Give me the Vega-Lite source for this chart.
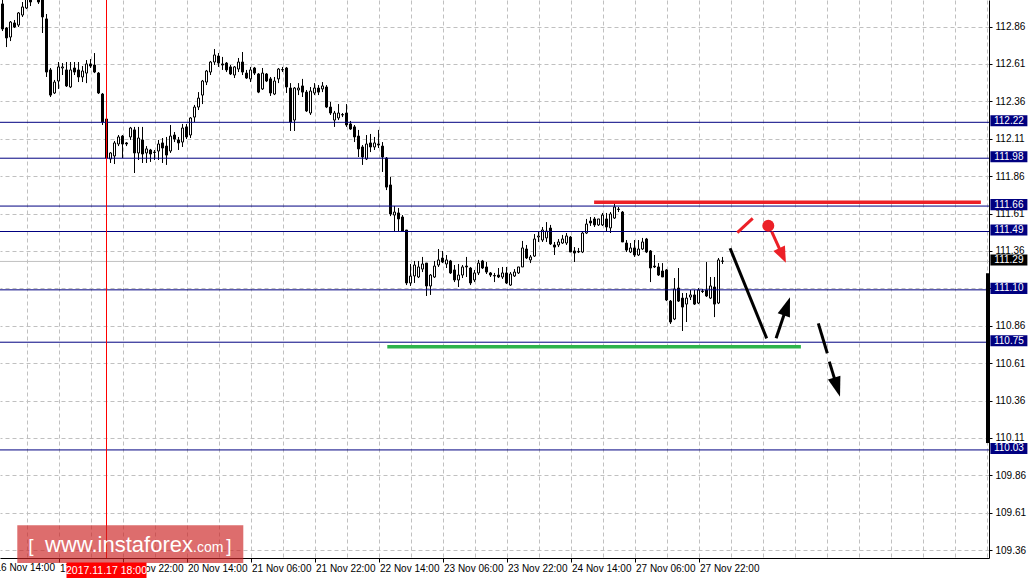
{
"$schema": "https://vega.github.io/schema/vega-lite/v6.json",
"width": 989, "height": 558,
"autosize": {"type": "none"},
"padding": {"left": 0, "top": 0, "right": 43, "bottom": 20},
"background": "white",
"config": {"view": {"stroke": null}, "scale": {"continuousPadding": 0}},
"datasets": {
"candles": [
{"i":2,"o":113.011,"h":113.045,"l":112.830,"c":112.844},
{"i":3,"o":112.850,"h":112.857,"l":112.723,"c":112.784},
{"i":4,"o":112.790,"h":112.897,"l":112.763,"c":112.890},
{"i":5,"o":112.884,"h":112.904,"l":112.850,"c":112.857},
{"i":6,"o":112.870,"h":112.957,"l":112.857,"c":112.951},
{"i":7,"o":112.937,"h":113.024,"l":112.924,"c":112.991},
{"i":8,"o":112.984,"h":113.078,"l":112.977,"c":113.058},
{"i":9,"o":113.064,"h":113.091,"l":112.997,"c":113.024},
{"i":10,"o":113.091,"h":113.118,"l":113.044,"c":113.058},
{"i":11,"o":113.064,"h":113.084,"l":113.011,"c":113.024},
{"i":12,"o":113.051,"h":113.064,"l":112.817,"c":112.924},
{"i":13,"o":112.911,"h":112.944,"l":112.523,"c":112.556},
{"i":14,"o":112.570,"h":112.583,"l":112.389,"c":112.402},
{"i":15,"o":112.416,"h":112.503,"l":112.409,"c":112.489},
{"i":16,"o":112.496,"h":112.623,"l":112.443,"c":112.590},
{"i":17,"o":112.583,"h":112.616,"l":112.536,"c":112.590},
{"i":18,"o":112.570,"h":112.623,"l":112.456,"c":112.463},
{"i":19,"o":112.456,"h":112.623,"l":112.449,"c":112.570},
{"i":20,"o":112.583,"h":112.623,"l":112.536,"c":112.556},
{"i":21,"o":112.570,"h":112.623,"l":112.489,"c":112.523},
{"i":22,"o":112.523,"h":112.596,"l":112.489,"c":112.563},
{"i":23,"o":112.549,"h":112.636,"l":112.482,"c":112.610},
{"i":24,"o":112.610,"h":112.643,"l":112.583,"c":112.596},
{"i":25,"o":112.603,"h":112.683,"l":112.549,"c":112.556},
{"i":26,"o":112.549,"h":112.556,"l":112.409,"c":112.416},
{"i":27,"o":112.409,"h":112.416,"l":112.202,"c":112.222},
{"i":28,"o":112.242,"h":112.249,"l":111.955,"c":111.981},
{"i":29,"o":111.975,"h":112.021,"l":111.948,"c":112.015},
{"i":30,"o":111.995,"h":112.095,"l":111.941,"c":112.082},
{"i":31,"o":112.075,"h":112.135,"l":112.061,"c":112.122},
{"i":32,"o":112.128,"h":112.135,"l":111.981,"c":112.075},
{"i":33,"o":112.082,"h":112.088,"l":112.061,"c":112.075},
{"i":34,"o":112.122,"h":112.189,"l":112.102,"c":112.182},
{"i":35,"o":112.169,"h":112.189,"l":111.881,"c":112.015},
{"i":36,"o":112.015,"h":112.189,"l":111.968,"c":112.115},
{"i":37,"o":112.102,"h":112.189,"l":111.948,"c":112.008},
{"i":38,"o":112.015,"h":112.061,"l":111.948,"c":112.042},
{"i":39,"o":112.035,"h":112.042,"l":111.955,"c":112.008},
{"i":40,"o":112.021,"h":112.035,"l":111.968,"c":112.018},
{"i":41,"o":112.028,"h":112.102,"l":111.968,"c":112.075},
{"i":42,"o":112.082,"h":112.115,"l":111.948,"c":112.048},
{"i":43,"o":112.061,"h":112.122,"l":111.935,"c":112.001},
{"i":44,"o":112.028,"h":112.202,"l":112.015,"c":112.128},
{"i":45,"o":112.135,"h":112.155,"l":112.088,"c":112.108},
{"i":46,"o":112.102,"h":112.122,"l":112.035,"c":112.082},
{"i":47,"o":112.088,"h":112.209,"l":112.055,"c":112.182},
{"i":48,"o":112.189,"h":112.209,"l":112.108,"c":112.122},
{"i":49,"o":112.135,"h":112.255,"l":112.115,"c":112.249},
{"i":50,"o":112.255,"h":112.336,"l":112.222,"c":112.322},
{"i":51,"o":112.322,"h":112.422,"l":112.302,"c":112.382},
{"i":52,"o":112.402,"h":112.503,"l":112.342,"c":112.496},
{"i":53,"o":112.489,"h":112.570,"l":112.469,"c":112.563},
{"i":54,"o":112.556,"h":112.630,"l":112.536,"c":112.623},
{"i":55,"o":112.623,"h":112.710,"l":112.603,"c":112.670},
{"i":56,"o":112.663,"h":112.683,"l":112.590,"c":112.616},
{"i":57,"o":112.610,"h":112.657,"l":112.570,"c":112.603},
{"i":58,"o":112.616,"h":112.623,"l":112.556,"c":112.570},
{"i":59,"o":112.590,"h":112.603,"l":112.536,"c":112.543},
{"i":60,"o":112.536,"h":112.596,"l":112.516,"c":112.590},
{"i":61,"o":112.576,"h":112.650,"l":112.556,"c":112.623},
{"i":62,"o":112.623,"h":112.690,"l":112.536,"c":112.556},
{"i":63,"o":112.549,"h":112.570,"l":112.510,"c":112.516},
{"i":64,"o":112.510,"h":112.590,"l":112.489,"c":112.570},
{"i":65,"o":112.583,"h":112.590,"l":112.536,"c":112.549},
{"i":66,"o":112.543,"h":112.549,"l":112.415,"c":112.422},
{"i":67,"o":112.443,"h":112.583,"l":112.436,"c":112.549},
{"i":68,"o":112.543,"h":112.549,"l":112.489,"c":112.496},
{"i":69,"o":112.510,"h":112.523,"l":112.396,"c":112.416},
{"i":70,"o":112.409,"h":112.523,"l":112.402,"c":112.496},
{"i":71,"o":112.510,"h":112.583,"l":112.482,"c":112.576},
{"i":72,"o":112.570,"h":112.590,"l":112.556,"c":112.573},
{"i":73,"o":112.583,"h":112.590,"l":112.416,"c":112.456},
{"i":74,"o":112.449,"h":112.482,"l":112.162,"c":112.222},
{"i":75,"o":112.235,"h":112.456,"l":112.162,"c":112.449},
{"i":76,"o":112.436,"h":112.482,"l":112.402,"c":112.449},
{"i":77,"o":112.463,"h":112.510,"l":112.389,"c":112.422},
{"i":78,"o":112.422,"h":112.436,"l":112.289,"c":112.296},
{"i":79,"o":112.282,"h":112.456,"l":112.269,"c":112.429},
{"i":80,"o":112.416,"h":112.482,"l":112.402,"c":112.449},
{"i":81,"o":112.449,"h":112.469,"l":112.402,"c":112.422},
{"i":82,"o":112.443,"h":112.489,"l":112.422,"c":112.463},
{"i":83,"o":112.456,"h":112.469,"l":112.315,"c":112.322},
{"i":84,"o":112.322,"h":112.356,"l":112.269,"c":112.282},
{"i":85,"o":112.235,"h":112.296,"l":112.189,"c":112.282},
{"i":86,"o":112.249,"h":112.342,"l":112.235,"c":112.282},
{"i":87,"o":112.269,"h":112.282,"l":112.255,"c":112.272},
{"i":88,"o":112.282,"h":112.342,"l":112.189,"c":112.202},
{"i":89,"o":112.209,"h":112.229,"l":112.169,"c":112.175},
{"i":90,"o":112.189,"h":112.202,"l":112.088,"c":112.122},
{"i":91,"o":112.128,"h":112.169,"l":111.988,"c":112.042},
{"i":92,"o":112.055,"h":112.068,"l":111.935,"c":111.988},
{"i":93,"o":111.975,"h":112.135,"l":111.968,"c":112.075},
{"i":94,"o":112.082,"h":112.142,"l":112.021,"c":112.055},
{"i":95,"o":112.055,"h":112.122,"l":112.035,"c":112.082},
{"i":96,"o":112.075,"h":112.169,"l":112.048,"c":112.068},
{"i":97,"o":112.061,"h":112.088,"l":111.888,"c":111.988},
{"i":98,"o":111.981,"h":111.988,"l":111.767,"c":111.787},
{"i":99,"o":111.801,"h":111.855,"l":111.593,"c":111.607},
{"i":100,"o":111.600,"h":111.660,"l":111.493,"c":111.620},
{"i":101,"o":111.614,"h":111.647,"l":111.493,"c":111.574},
{"i":102,"o":111.587,"h":111.600,"l":111.487,"c":111.493},
{"i":103,"o":111.500,"h":111.500,"l":111.132,"c":111.146},
{"i":104,"o":111.146,"h":111.273,"l":111.126,"c":111.192},
{"i":105,"o":111.193,"h":111.293,"l":111.146,"c":111.266},
{"i":106,"o":111.186,"h":111.293,"l":111.179,"c":111.253},
{"i":107,"o":111.239,"h":111.320,"l":111.219,"c":111.273},
{"i":108,"o":111.279,"h":111.279,"l":111.059,"c":111.126},
{"i":109,"o":111.126,"h":111.206,"l":111.066,"c":111.199},
{"i":110,"o":111.186,"h":111.293,"l":111.179,"c":111.259},
{"i":111,"o":111.266,"h":111.373,"l":111.253,"c":111.300},
{"i":112,"o":111.313,"h":111.360,"l":111.279,"c":111.286},
{"i":113,"o":111.273,"h":111.333,"l":111.246,"c":111.300},
{"i":114,"o":111.293,"h":111.300,"l":111.206,"c":111.213},
{"i":115,"o":111.233,"h":111.266,"l":111.152,"c":111.166},
{"i":116,"o":111.166,"h":111.273,"l":111.119,"c":111.199},
{"i":117,"o":111.199,"h":111.266,"l":111.179,"c":111.253},
{"i":118,"o":111.259,"h":111.320,"l":111.186,"c":111.253},
{"i":119,"o":111.246,"h":111.253,"l":111.132,"c":111.146},
{"i":120,"o":111.166,"h":111.233,"l":111.152,"c":111.213},
{"i":121,"o":111.213,"h":111.300,"l":111.199,"c":111.279},
{"i":122,"o":111.293,"h":111.300,"l":111.239,"c":111.246},
{"i":123,"o":111.253,"h":111.286,"l":111.206,"c":111.219},
{"i":124,"o":111.213,"h":111.219,"l":111.186,"c":111.199},
{"i":125,"o":111.196,"h":111.213,"l":111.152,"c":111.193},
{"i":126,"o":111.199,"h":111.246,"l":111.179,"c":111.186},
{"i":127,"o":111.186,"h":111.253,"l":111.173,"c":111.213},
{"i":128,"o":111.213,"h":111.253,"l":111.139,"c":111.146},
{"i":129,"o":111.132,"h":111.219,"l":111.126,"c":111.206},
{"i":130,"o":111.193,"h":111.239,"l":111.186,"c":111.219},
{"i":131,"o":111.213,"h":111.253,"l":111.206,"c":111.253},
{"i":132,"o":111.253,"h":111.427,"l":111.253,"c":111.380},
{"i":133,"o":111.373,"h":111.400,"l":111.306,"c":111.313},
{"i":134,"o":111.300,"h":111.333,"l":111.279,"c":111.320},
{"i":135,"o":111.326,"h":111.473,"l":111.320,"c":111.440},
{"i":136,"o":111.453,"h":111.487,"l":111.420,"c":111.460},
{"i":137,"o":111.433,"h":111.520,"l":111.420,"c":111.500},
{"i":138,"o":111.447,"h":111.553,"l":111.420,"c":111.493},
{"i":139,"o":111.513,"h":111.534,"l":111.400,"c":111.407},
{"i":140,"o":111.400,"h":111.420,"l":111.333,"c":111.386},
{"i":141,"o":111.400,"h":111.440,"l":111.386,"c":111.420},
{"i":142,"o":111.413,"h":111.467,"l":111.407,"c":111.440},
{"i":143,"o":111.413,"h":111.480,"l":111.400,"c":111.460},
{"i":144,"o":111.453,"h":111.460,"l":111.353,"c":111.353},
{"i":145,"o":111.360,"h":111.386,"l":111.286,"c":111.346},
{"i":146,"o":111.357,"h":111.380,"l":111.346,"c":111.353},
{"i":147,"o":111.353,"h":111.493,"l":111.346,"c":111.480},
{"i":148,"o":111.480,"h":111.574,"l":111.473,"c":111.540},
{"i":149,"o":111.560,"h":111.587,"l":111.527,"c":111.547},
{"i":150,"o":111.574,"h":111.587,"l":111.520,"c":111.534},
{"i":151,"o":111.534,"h":111.574,"l":111.527,"c":111.574},
{"i":152,"o":111.534,"h":111.614,"l":111.527,"c":111.600},
{"i":153,"o":111.574,"h":111.614,"l":111.493,"c":111.520},
{"i":154,"o":111.514,"h":111.620,"l":111.480,"c":111.607},
{"i":155,"o":111.580,"h":111.680,"l":111.574,"c":111.654},
{"i":156,"o":111.640,"h":111.654,"l":111.620,"c":111.637},
{"i":157,"o":111.620,"h":111.627,"l":111.420,"c":111.420},
{"i":158,"o":111.413,"h":111.433,"l":111.353,"c":111.366},
{"i":159,"o":111.353,"h":111.413,"l":111.346,"c":111.380},
{"i":160,"o":111.380,"h":111.433,"l":111.320,"c":111.333},
{"i":161,"o":111.333,"h":111.433,"l":111.326,"c":111.373},
{"i":162,"o":111.373,"h":111.447,"l":111.366,"c":111.420},
{"i":163,"o":111.440,"h":111.447,"l":111.346,"c":111.353},
{"i":164,"o":111.360,"h":111.366,"l":111.152,"c":111.246},
{"i":165,"o":111.259,"h":111.333,"l":111.246,"c":111.253},
{"i":166,"o":111.253,"h":111.279,"l":111.193,"c":111.199},
{"i":167,"o":111.226,"h":111.279,"l":111.186,"c":111.186},
{"i":168,"o":111.233,"h":111.239,"l":111.025,"c":111.032},
{"i":169,"o":111.025,"h":111.032,"l":110.872,"c":110.885},
{"i":170,"o":110.905,"h":111.179,"l":110.898,"c":111.106},
{"i":171,"o":111.112,"h":111.246,"l":111.019,"c":111.025},
{"i":172,"o":111.045,"h":111.079,"l":110.825,"c":110.985},
{"i":173,"o":111.005,"h":111.079,"l":110.885,"c":111.045},
{"i":174,"o":111.052,"h":111.099,"l":111.032,"c":111.066},
{"i":175,"o":111.066,"h":111.099,"l":110.999,"c":111.005},
{"i":176,"o":111.012,"h":111.112,"l":111.005,"c":111.099},
{"i":177,"o":111.092,"h":111.106,"l":111.079,"c":111.089},
{"i":178,"o":111.099,"h":111.286,"l":111.052,"c":111.059},
{"i":179,"o":111.045,"h":111.186,"l":111.039,"c":111.126},
{"i":180,"o":111.119,"h":111.186,"l":110.918,"c":111.005},
{"i":181,"o":111.012,"h":111.313,"l":111.005,"c":111.300},
{"i":182,"o":111.290,"h":111.320,"l":111.273,"c":111.293}
],
"levels": [{"p":112.22},{"p":111.98},{"p":111.66},{"p":111.49},{"p":111.10},{"p":110.75},{"p":110.03}],
"bid": [{"p":111.29}],
"blackStrokes": [
{"g":"fall","i":183.9,"p":111.378},{"g":"fall","i":193.05,"p":110.776},
{"g":"up","i":195.4,"p":110.776},{"g":"up","i":198.1,"p":110.990},
{"g":"d1","i":205.95,"p":110.876},{"g":"d1","i":208.2,"p":110.676},
{"g":"d2","i":208.7,"p":110.620},{"g":"d2","i":210.65,"p":110.450}
],
"redStrokes": [
{"g":"tick","i":185.7,"p":111.482},{"g":"tick","i":189.55,"p":111.578},
{"g":"arrow","i":194.3,"p":111.489},{"g":"arrow","i":197.0,"p":111.330}
]
},
"layer": [
{
"data": {"name": "bid"},
"mark": {"type": "rule", "color": "#c0c0c0", "strokeWidth": 1},
"encoding": {
"y": {"field": "p", "type": "quantitative",
"scale": {"domain": [109.3076, 113.0375], "nice": false, "zero": false, "padding": 0},
"axis": {"orient": "right", "title": null, "tickCount": 100,
"values": [109.36,109.61,109.86,110.11,110.36,110.61,110.86,111.11,111.36,111.61,111.86,112.11,112.36,112.61,112.86],
"format": ".2f", "grid": true, "gridColor": "#c0c0c0", "gridDash": [4,3], "gridWidth": 1,
"domain": true, "domainColor": "#000000", "domainWidth": 1,
"ticks": true, "tickColor": "#000000", "tickSize": 3, "tickWidth": 1,
"labelAlign": "left", "labelBaseline": "middle", "labelPadding": 3,
"labelFont": "Liberation Sans", "labelFontSize": 10, "labelColor": "#000000",
"labelOverlap": false, "labelBound": false, "labelFlush": false}}
}
},
{
"data": {"name": "candles"},
"mark": {"type": "rule", "color": "#000000", "strokeWidth": 1},
"encoding": {
"x": {"field": "i", "type": "quantitative",
"scale": {"domain": [1.375, 248.625], "nice": false, "zero": false, "padding": 0},
"axis": {"orient": "bottom", "title": null, "tickCount": 100,
"values": [8,16,24,32,40,48,56,64,72,80,88,96,104,112,120,128,136,144,152,160,168,176,184,192,200,208,216,224,232,240,248],
"labelExpr": "datum.value % 16 === 0 && datum.value <= 176 ? ['16 Nov 14:00','17 Nov 06:00','17 Nov 22:00','20 Nov 14:00','21 Nov 06:00','21 Nov 22:00','22 Nov 14:00','23 Nov 06:00','23 Nov 22:00','24 Nov 14:00','27 Nov 06:00','27 Nov 22:00'][datum.value / 16] : ''",
"grid": true, "gridColor": "#c0c0c0", "gridDash": [4,3], "gridWidth": 1,
"domain": true, "domainColor": "#000000", "domainWidth": 1,
"ticks": true, "tickColor": "#000000", "tickSize": 4,
"tickOpacity": {"condition": {"test": "datum.value % 16 === 0 && datum.value <= 176", "value": 1}, "value": 0},
"labelAlign": "left", "labelBaseline": "top", "labelPadding": 1, "labelOffset": 1,
"labelFont": "Liberation Sans", "labelFontSize": 10, "labelColor": "#000000",
"labelOverlap": false, "labelBound": false, "labelFlush": false}},
"y": {"field": "l", "type": "quantitative"},
"y2": {"field": "h"}
}
},
{
"data": {"name": "candles"},
"mark": {"type": "bar", "width": 2, "stroke": "#000000", "strokeWidth": 1},
"encoding": {
"x": {"field": "i", "type": "quantitative"},
"y": {"field": "o", "type": "quantitative"},
"y2": {"field": "c"},
"fill": {"condition": {"test": "datum.c >= datum.o", "value": "#ffffff"}, "value": "#000000"}
}
},
{
"data": {"name": "levels"},
"mark": {"type": "rule", "color": "#000080", "strokeWidth": 1},
"encoding": {"y": {"field": "p", "type": "quantitative"}}
},
{
"data": {"values": [{"i": 28}]},
"mark": {"type": "rule", "color": "#ff0000", "strokeWidth": 1},
"encoding": {"x": {"field": "i", "type": "quantitative"}}
},
{
"data": {"values": [{"i": 149.9, "i2": 246.6, "p": 111.685}]},
"mark": {"type": "rule", "color": "#ec2027", "strokeWidth": 3.5, "strokeCap": "butt"},
"encoding": {"x": {"field": "i", "type": "quantitative"}, "x2": {"field": "i2"}, "y": {"field": "p", "type": "quantitative"}}
},
{
"data": {"values": [{"i": 98.2, "i2": 201.6, "p": 110.720}]},
"mark": {"type": "rule", "color": "#2db34b", "strokeWidth": 3.5, "strokeCap": "butt"},
"encoding": {"x": {"field": "i", "type": "quantitative"}, "x2": {"field": "i2"}, "y": {"field": "p", "type": "quantitative"}}
},
{
"data": {"name": "blackStrokes"},
"mark": {"type": "line", "color": "#000000", "strokeWidth": 3, "strokeCap": "butt"},
"encoding": {"x": {"field": "i", "type": "quantitative"}, "y": {"field": "p", "type": "quantitative"}, "detail": {"field": "g"}}
},
{
"data": {"name": "redStrokes"},
"mark": {"type": "line", "color": "#ec2027", "strokeWidth": 3, "strokeCap": "butt"},
"encoding": {"x": {"field": "i", "type": "quantitative"}, "y": {"field": "p", "type": "quantitative"}, "detail": {"field": "g"}}
},
{
"data": {"values": [{"i": 193.45, "p": 111.529}]},
"mark": {"type": "point", "shape": "circle", "filled": true, "color": "#ec2027", "opacity": 1, "size": 144},
"encoding": {"x": {"field": "i", "type": "quantitative"}, "y": {"field": "p", "type": "quantitative"}}
},
{
"data": {"values": [{"i": 198.1, "p": 110.990}]},
"mark": {"type": "point", "shape": "M0,-1L-0.68,1L0.68,1Z", "filled": true, "color": "#000000", "opacity": 1, "size": 361, "angle": 19},
"encoding": {"x": {"field": "i", "type": "quantitative"}, "y": {"field": "p", "type": "quantitative"}}
},
{
"data": {"values": [{"i": 210.65, "p": 110.450}]},
"mark": {"type": "point", "shape": "M0,-1L-0.65,1L0.65,1Z", "filled": true, "color": "#000000", "opacity": 1, "size": 400, "angle": 163},
"encoding": {"x": {"field": "i", "type": "quantitative"}, "y": {"field": "p", "type": "quantitative"}}
},
{
"data": {"values": [{"i": 197.0, "p": 111.330}]},
"mark": {"type": "point", "shape": "M0,-1L-0.8,1L0.8,1Z", "filled": true, "color": "#ec2027", "opacity": 1, "size": 256, "angle": 155},
"encoding": {"x": {"field": "i", "type": "quantitative"}, "y": {"field": "p", "type": "quantitative"}}
},
{
"data": {"values": [{"i": 248.25, "p": 111.211, "p2": 110.076}]},
"mark": {"type": "rule", "color": "#000000", "strokeWidth": 3, "strokeCap": "butt"},
"encoding": {"x": {"field": "i", "type": "quantitative"}, "y": {"field": "p", "type": "quantitative"}, "y2": {"field": "p2"}}
},
{
"data": {"name": "levels"},
"mark": {"type": "point", "shape": "M-1,-0.38L1,-0.38L1,0.22L-1,0.22Z", "filled": true, "color": "#000080", "opacity": 1, "size": 1369},
"encoding": {"x": {"datum": 253.6, "type": "quantitative"}, "y": {"field": "p", "type": "quantitative"}}
},
{
"data": {"name": "bid"},
"mark": {"type": "point", "shape": "M-1,-0.38L1,-0.38L1,0.22L-1,0.22Z", "filled": true, "color": "#000000", "opacity": 1, "size": 1369},
"encoding": {"x": {"datum": 253.6, "type": "quantitative"}, "y": {"field": "p", "type": "quantitative"}}
},
{
"data": {"name": "levels"},
"mark": {"type": "text", "align": "center", "baseline": "middle", "color": "#ffffff", "font": "Liberation Sans", "fontSize": 10, "dy": -1.5},
"encoding": {"x": {"datum": 253.6, "type": "quantitative"}, "y": {"field": "p", "type": "quantitative"}, "text": {"field": "p", "format": ".2f"}}
},
{
"data": {"name": "bid"},
"mark": {"type": "text", "align": "center", "baseline": "middle", "color": "#ffffff", "font": "Liberation Sans", "fontSize": 10, "dy": -1.5},
"encoding": {"x": {"datum": 253.6, "type": "quantitative"}, "y": {"field": "p", "type": "quantitative"}, "text": {"field": "p", "format": ".2f"}}
},
{
"data": {"values": [{"i": 0, "t": "16 Nov 14:00"}]},
"mark": {"type": "text", "align": "left", "baseline": "top", "color": "#000000", "font": "Liberation Sans", "fontSize": 10, "dx": 1},
"encoding": {"x": {"field": "i", "type": "quantitative"}, "y": {"datum": 109.274, "type": "quantitative"}, "text": {"field": "t"}}
},
{
"data": {"values": [{"i": 33.95}]},
"mark": {"type": "point", "shape": "M-1,-0.1668L1,-0.1668L1,0.1668L-1,0.1668Z", "filled": true, "color": "#cc2222", "opacity": 0.66, "size": 51076},
"encoding": {"x": {"field": "i", "type": "quantitative"}, "y": {"datum": 109.3998, "type": "quantitative"}}
},
{
"data": {"values": [{"i": 9.125, "t": "["}, {"i": 58.625, "t": "]"}]},
"mark": {"type": "text", "align": "center", "baseline": "alphabetic", "color": "#ffffff", "font": "Liberation Sans", "fontSize": 19},
"encoding": {"x": {"field": "i", "type": "quantitative"}, "y": {"datum": 109.3455, "type": "quantitative"}, "text": {"field": "t"}}
},
{
"data": {"values": [{"i": 12.625, "t": "www.instaforex"}]},
"mark": {"type": "text", "align": "left", "baseline": "alphabetic", "color": "#ffffff", "font": "Liberation Sans", "fontSize": 22},
"encoding": {"x": {"field": "i", "type": "quantitative"}, "y": {"datum": 109.3455, "type": "quantitative"}, "text": {"field": "t"}}
},
{
"data": {"values": [{"i": 49.625, "t": ".com"}]},
"mark": {"type": "text", "align": "left", "baseline": "alphabetic", "color": "#ffffff", "font": "Liberation Sans", "fontSize": 14},
"encoding": {"x": {"field": "i", "type": "quantitative"}, "y": {"datum": 109.3455, "type": "quantitative"}, "text": {"field": "t"}}
},
{
"data": {"values": [{"i": 28, "t": "2017.11.17 18:00"}]},
"mark": {"type": "point", "shape": "M-1,-0.2L1,-0.2L1,0.2L-1,0.2Z", "filled": true, "color": "#ff0000", "opacity": 1, "size": 6400},
"encoding": {"x": {"field": "i", "type": "quantitative"}, "y": {"datum": 109.224, "type": "quantitative"}}
},
{
"data": {"values": [{"i": 28, "t": "2017.11.17 18:00"}]},
"mark": {"type": "text", "align": "center", "baseline": "middle", "color": "#ffffff", "font": "Liberation Sans", "fontSize": 10.5},
"encoding": {"x": {"field": "i", "type": "quantitative"}, "y": {"datum": 109.224, "type": "quantitative"}, "text": {"field": "t"}}
}
]
}
